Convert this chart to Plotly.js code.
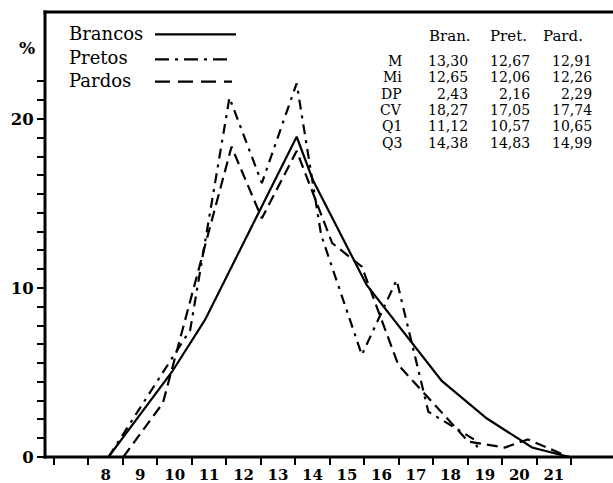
<!DOCTYPE html>
<html>
<head>
<meta charset="utf-8">
<script src="https://cdn.plot.ly/plotly-3.0.1.min.js"></script>
<style>
  html, body { margin: 0; padding: 0; background: #fff; }
  #chart { width: 613px; height: 483px; }
</style>
</head>
<body>
<div id="chart"></div>
<script>
// Percentage distribution by group (polygon vertices)
const brancosX = [8.08, 9.92, 10.88, 13.54, 14.01, 15.57, 17.75, 19.05, 20.37, 21.45];
const brancosY = [0, 5.03, 8.11, 18.95, 16.39, 10.18, 4.50, 2.29, 0.56, 0];

const pretosX = [8.08, 10.45, 11.59, 12.53, 13.54, 14.25, 15.43, 16.44, 17.36, 18.71, 18.83];
const pretosY = [0, 7.51, 21.26, 16.21, 22.11, 13.14, 6.04, 10.47, 2.68, 1.01, 0.24];

const pardosX = [8.51, 9.66, 11.65, 12.53, 13.54, 14.57, 15.43, 16.49, 18.52, 19.58, 20.25, 21.44];
const pardosY = [0, 3.20, 18.36, 14.12, 18.11, 12.66, 11.26, 5.44, 0.91, 0.56, 1.04, 0];

const legendNames = ['Brancos', 'Pretos', 'Pardos'];
const xTickLabels = [8, 9, 10, 11, 12, 13, 14, 15, 16, 17, 18, 19, 20, 21];
const yTickLabels = [0, 10, 20];

// Summary statistics table
const statHeaders = ['Bran.', 'Pret.', 'Pard.'];
const statNames = ['M', 'Mi', 'DP', 'CV', 'Q1', 'Q3'];
const statBrancos = ['13,30', '12,65', '2,43', '18,27', '11,12', '14,38'];
const statPretos = ['12,67', '12,06', '2,16', '17,05', '10,57', '14,83'];
const statPardos = ['12,91', '12,26', '2,29', '17,74', '10,65', '14,99'];

// Geometry of the plotting area (pixels)
const W = 613, H = 483;
const M = { l: 45, r: 0, t: 12, b: 26 };
const plotW = W - M.l - M.r, plotH = H - M.t - M.b;
const px = v => (v - M.l) / plotW;          // pixel x -> paper x
const py = v => (H - M.b - v) / plotH;      // pixel y -> paper y

const serif = 'DejaVu Serif, serif';
const black = '#000';

const dashes = ['solid', '10px,6px,3px,6px', '11px,6px'];
const legendDashes = ['solid', '14px,6px,3px,6px', '15px,8px'];

const series = [[brancosX, brancosY], [pretosX, pretosY], [pardosX, pardosY]];
const traces = series.map((s, i) => ({
  x: s[0], y: s[1], type: 'scatter', mode: 'lines', name: legendNames[i],
  line: { color: black, width: 2.2, dash: dashes[i] },
  hoverinfo: 'skip'
}));

// Tick positions: class boundaries on x, fine subdivisions on y
const xBoundaries = [];
for (let v = 6.5; v <= 21.5 + 1e-9; v += 1) xBoundaries.push(v);
const yMinor = [];
for (let k = 1; k <= 20; k++) if (k % 9 !== 0) yMinor.push(k * 10 / 9);

const annotations = [];
const shapes = [];

// Frame: left, bottom and top lines
const o = 1.5;
shapes.push({ type: 'line', xref: 'paper', yref: 'paper', x0: 0, x1: 0, y0: -o / plotH, y1: 1 + o / plotH, line: { color: black, width: 3 } });
shapes.push({ type: 'line', xref: 'paper', yref: 'paper', x0: -o / plotW, x1: 1, y0: 0, y1: 0, line: { color: black, width: 3 } });
shapes.push({ type: 'line', xref: 'paper', yref: 'paper', x0: -o / plotW, x1: 1, y0: 1, y1: 1, line: { color: black, width: 3 } });

// Legend: name followed by the line sample
const legendBase = [40, 63.4, 87.2];
const legendLineY = [34.3, 59.3, 81.7];
const legendLineEnd = [236, 232, 232];
legendNames.forEach((n, i) => {
  annotations.push({
    xref: 'paper', yref: 'paper', x: px(68), y: py(legendBase[i] - 6.2),
    xanchor: 'left', yanchor: 'middle', showarrow: false, borderpad: 0,
    text: n, font: { family: serif, size: 18, color: black }
  });
  shapes.push({
    type: 'line', xref: 'paper', yref: 'paper',
    x0: px(155), x1: px(legendLineEnd[i]), y0: py(legendLineY[i]), y1: py(legendLineY[i]),
    line: { color: black, width: 2.2, dash: legendDashes[i] }
  });
});

// Statistics table
const headerCenters = [449.7, 508, 563.3];
statHeaders.forEach((h, j) => {
  annotations.push({
    xref: 'paper', yref: 'paper', x: px(headerCenters[j]), y: py(41.7 - 5.2),
    xanchor: 'center', yanchor: 'middle', showarrow: false, borderpad: 0,
    text: h, font: { family: serif, size: 15, color: black }
  });
});
const colRight = [402.7, 469.3, 531, 592.7];
const columns = [statNames, statBrancos, statPretos, statPardos];
statNames.forEach((_, r) => {
  const base = 65.7 + r * 16.4;
  columns.forEach((col, c) => {
    annotations.push({
      xref: 'paper', yref: 'paper', x: px(colRight[c]), y: py(base - 4.9),
      xanchor: 'right', yanchor: 'middle', showarrow: false, borderpad: 0,
      text: col[r], font: { family: serif, size: 14, color: black }
    });
  });
});

// Unit label
annotations.push({
  xref: 'paper', yref: 'paper', x: px(26.5), y: py(47.5),
  xanchor: 'center', yanchor: 'middle', showarrow: false, borderpad: 0,
  text: '%', font: { family: serif, size: 17, color: black, weight: 'bold' }
});

const layout = {
  width: W, height: H,
  margin: M,
  paper_bgcolor: '#fff', plot_bgcolor: '#fff',
  showlegend: false,
  xaxis: {
    range: [6.5 - (54 - M.l) / 34.47, 6.5 + (W - 54) / 34.47],
    showgrid: false, zeroline: false, showline: false,
    tickmode: 'array', tickvals: xTickLabels, ticktext: xTickLabels.map(String),
    ticks: 'outside', ticklen: 4, tickwidth: 2, tickcolor: 'rgba(0,0,0,0)',
    tickfont: { family: serif, size: 15, color: black, weight: 'bold' },
    minor: { tickmode: 'array', tickvals: xBoundaries, ticks: 'outside', ticklen: 7, tickwidth: 2, tickcolor: black, showgrid: false },
    fixedrange: true
  },
  yaxis: {
    range: [0, plotH / 16.9],
    showgrid: false, zeroline: false, showline: false,
    tickmode: 'array', tickvals: yTickLabels, ticktext: yTickLabels.map(String),
    ticks: 'outside', ticklen: 7, tickwidth: 2, tickcolor: black,
    tickfont: { family: serif, size: 16.5, color: black, weight: 'bold' },
    minor: { tickmode: 'array', tickvals: yMinor, ticks: 'outside', ticklen: 7, tickwidth: 2, tickcolor: black, showgrid: false },
    fixedrange: true
  },
  shapes: shapes,
  annotations: annotations
};

Plotly.newPlot('chart', traces, layout, { staticPlot: true, displayModeBar: false });
</script>
</body>
</html>
